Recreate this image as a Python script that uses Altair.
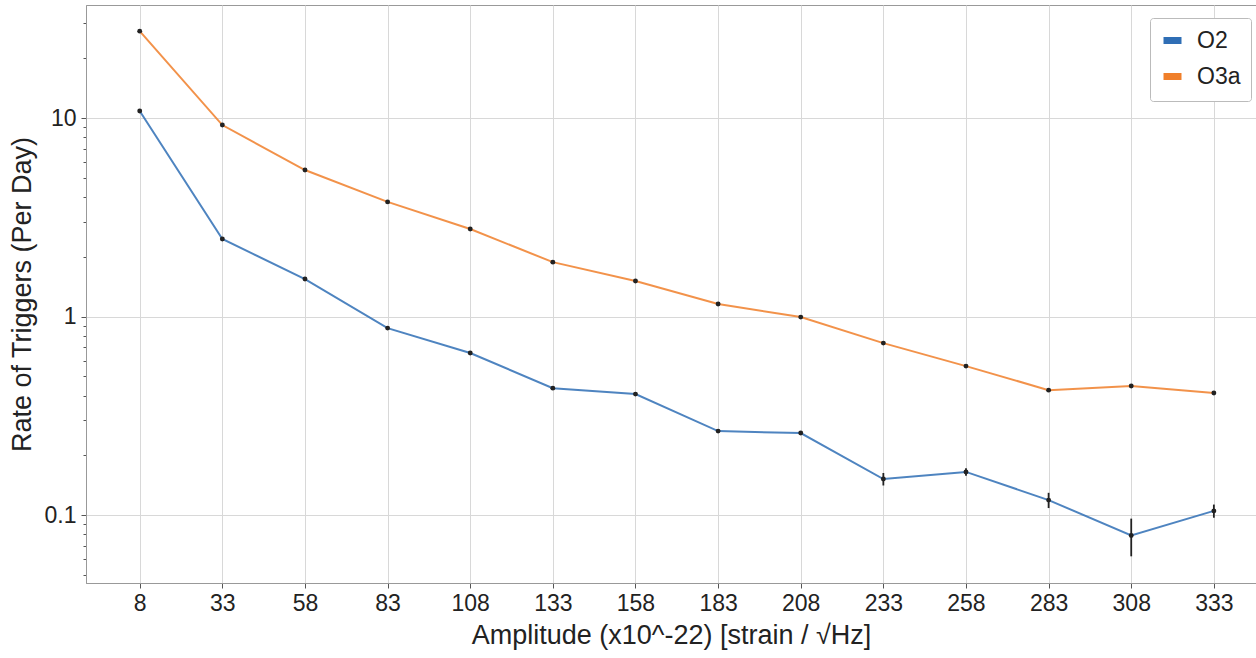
import altair as alt
import pandas as pd

amplitudes = [8, 33, 58, 83, 108, 133, 158, 183, 208, 233, 258, 283, 308, 333]
o2_rate = [10.85, 2.46, 1.545, 0.875, 0.655, 0.436, 0.407, 0.265, 0.259, 0.152, 0.165, 0.119, 0.079, 0.105]
o3a_rate = [27.4, 9.22, 5.47, 3.78, 2.76, 1.88, 1.51, 1.156, 0.994, 0.735, 0.563, 0.426, 0.447, 0.412]
o2_err = [0.12, 0.03, 0.02, 0.012, 0.01, 0.007, 0.007, 0.005, 0.005, 0.011, 0.007, 0.0105, 0.017, 0.008]
o3a_err = [0.2, 0.06, 0.04, 0.03, 0.02, 0.015, 0.012, 0.01, 0.009, 0.008, 0.007, 0.006, 0.006, 0.006]
series_names = ["O2", "O3a"]
series_colors = ["#2f6eb5", "#f07f2a"]
y_major = [0.1, 1, 10]
y_minor = [0.05, 0.06, 0.07, 0.08, 0.09, 0.2, 0.3, 0.4, 0.5, 0.6, 0.7, 0.8, 0.9,
           2, 3, 4, 5, 6, 7, 8, 9, 20, 30]

rows = []
for name, rates, errs in [("O2", o2_rate, o2_err), ("O3a", o3a_rate, o3a_err)]:
    for a, r, e in zip(amplitudes, rates, errs):
        rows.append({"amp": a, "rate": r, "lo": r - e, "hi": r + e, "series": name})
df = pd.DataFrame(rows)

FONT = "Liberation Sans"

x_enc = alt.X("amp:Q", scale=alt.Scale(domain=[-8.25, 345.75], nice=False, zero=False),
              axis=alt.Axis(values=amplitudes, title="Amplitude (x10^-22) [strain / √Hz]",
                            labelFontSize=23, titleFontSize=27, titleFontWeight="normal",
                            labelFont=FONT, titleFont=FONT, labelColor="#222", titleColor="#222",
                            tickSize=5, tickColor="#555", labelPadding=4, titlePadding=7,
                            domainColor="#999", gridColor="#d8d8d8", grid=True, labelFlush=False))

is_major = "abs(log(datum.value)/LN10 - round(log(datum.value)/LN10)) < 0.000001"
y_scale = alt.Scale(type="log", domain=[0.0455, 37.1], nice=False)
y_enc = alt.Y("rate:Q", scale=y_scale,
              axis=alt.Axis(values=y_major + y_minor, title="Rate of Triggers (Per Day)",
                            labelExpr=f"({is_major}) ? (datum.value >= 1 ? format(datum.value, 'd') : format(datum.value, '.1f')) : ''",
                            labelFontSize=23, titleFontSize=27, titleFontWeight="normal",
                            labelFont=FONT, titleFont=FONT, labelColor="#222", titleColor="#222",
                            tickSize={"condition": {"test": is_major, "value": 5}, "value": 3},
                            tickColor="#555", labelPadding=5, titlePadding=8,
                            domainColor="#999", grid=True, gridColor="#d8d8d8",
                            gridOpacity={"condition": {"test": is_major, "value": 1}, "value": 0}))

color_enc = alt.Color("series:N",
                      scale=alt.Scale(domain=series_names, range=series_colors),
                      legend=alt.Legend(title=None, orient="none", legendX=1064, legendY=13,
                                        labelFontSize=23, labelFont=FONT, labelColor="#222",
                                        symbolType="stroke", symbolSize=324, symbolStrokeWidth=7,
                                        symbolOpacity=1,
                                        fillColor="white", strokeColor="#bbb", cornerRadius=3,
                                        padding=10, rowPadding=7, labelOffset=12))

base = alt.Chart(df)
lines = base.mark_line(strokeWidth=2, opacity=0.85).encode(x=x_enc, y=y_enc, color=color_enc)
errs = base.mark_rule(color="#222", strokeWidth=1.8).encode(x="amp:Q", y=alt.Y("lo:Q", scale=y_scale), y2="hi:Q")
pts = base.mark_circle(color="#222", size=24, opacity=1).encode(x="amp:Q", y=alt.Y("rate:Q", scale=y_scale))

chart = alt.layer(lines, errs, pts).properties(
    width=1170, height=578,
    autosize=alt.AutoSizeParams(type="none"),
    padding={"left": 86, "top": 5, "right": 0, "bottom": 72},
    background="white",
).configure_view(stroke="#999", strokeWidth=1)

chart.save("out.html", embed_options={"renderer": "svg", "actions": False})
